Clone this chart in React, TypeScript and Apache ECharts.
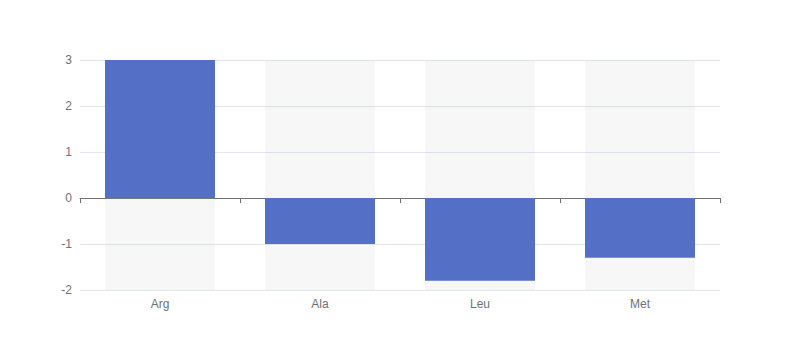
import React, { useEffect, useRef } from "react";
import * as echarts from "echarts";

const categories = ["Arg", "Ala", "Leu", "Met"];
const values = [3, -1, -1.8, -1.3];

export default function App() {
  const ref = useRef<HTMLDivElement>(null);
  useEffect(() => {
    if (!ref.current) return;
    const chart = echarts.init(ref.current, undefined, { renderer: "svg" });
    chart.setOption({
      animation: false,
      textStyle: { fontFamily: "sans-serif" },
      grid: { left: 80, right: 80, top: 60, bottom: 70, outerBoundsMode: "none", containLabel: false },
      xAxis: {
        type: "category",
        data: categories,
        axisLine: { show: true, onZero: true, lineStyle: { color: "#6E7079" } },
        axisTick: { show: true, lineStyle: { color: "#6E7079" } },
        axisLabel: { margin: 8, color: "#6E7079", fontSize: 12 },
      },
      yAxis: {
        type: "value",
        min: -2,
        max: 3,
        interval: 1,
        axisLabel: { color: "#6E7079", fontSize: 12 },
        splitLine: { lineStyle: { color: "#E0E6F1" } },
      },
      series: [
        {
          type: "bar",
          data: values,
          barWidth: 110,
          showBackground: true,
          backgroundStyle: { color: "rgba(180, 180, 180, 0.1)" },
          itemStyle: { color: "#5470c6" },
        },
      ],
    });
    return () => chart.dispose();
  }, []);
  return (
    <div
      ref={ref}
      style={{ position: "absolute", left: 0, top: 0, width: 800, height: 360 }}
    />
  );
}
